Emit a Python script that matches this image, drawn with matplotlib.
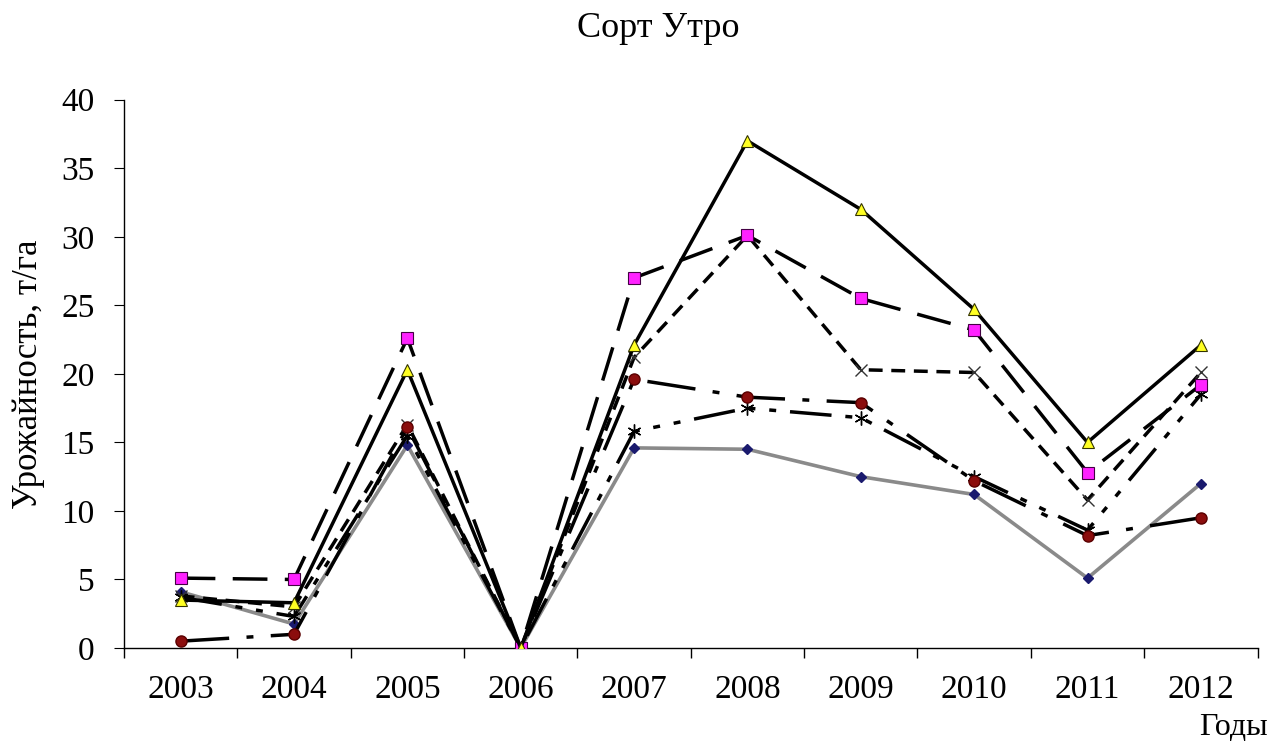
import matplotlib.pyplot as plt

years = ['2003', '2004', '2005', '2006', '2007', '2008', '2009', '2010', '2011', '2012']

# урожайность по вариантам, т/га
tri = [3.5, 3.3, 20.3, 0, 22.1, 37.0, 32.0, 24.7, 15.0, 22.1]
sq = [5.1, 5.0, 22.6, 0, 27.0, 30.1, 25.5, 23.2, 12.8, 19.2]
xs = [3.8, 3.0, 16.3, 0, 21.2, 30.1, 20.3, 20.1, 10.8, 20.1]
circ = [0.5, 1.0, 16.1, 0, 19.6, 18.3, 17.9, 12.2, 8.2, 9.5]
star = [3.7, 2.3, 15.5, 0, 15.8, 17.5, 16.8, 12.5, 8.6, 18.5]
diam = [4.1, 1.75, 14.8, 0, 14.6, 14.5, 12.5, 11.2, 5.1, 12.0]

plt.rcParams['font.family'] = ['Liberation Serif', 'DejaVu Serif']

fig = plt.figure(figsize=(12.78, 7.44), dpi=100)
ax = fig.add_axes([0.097, 0.129, 0.887, 0.737])

x = list(range(len(years)))

ax.plot(x, diam, color='#8a8a8a', lw=2.6, marker='D', ms=5, mfc='#1a1a6e', mec='#1a1a6e', zorder=2)
ax.plot(x, star, color='black', lw=2.5, dashes=(12, 4, 2, 4, 2, 4), marker=(6, 2, 0), ms=10,
        mec='black', mew=1, zorder=3)
ax.plot(x, circ, color='black', lw=2.5, dashes=(14, 5, 2, 5), marker='o', ms=8,
        mfc='#8b0d0d', mec='#5a0000', zorder=4)
ax.plot(x, xs, color='black', lw=2.5, dashes=(4, 2.5), marker='x', ms=9, mec='#333333',
        mew=1, zorder=3)
ax.plot(x, sq, color='black', lw=2.5, dashes=(10, 5), marker='s', ms=8,
        mfc='#ff22ff', mec='#440044', mew=0.8, zorder=5)
ax.plot(x, tri, color='black', lw=2.5, marker='^', ms=8, mfc='#ffff22', mec='#333300',
        mew=0.8, zorder=6)

ax.set_xlim(-0.43, 9.5)
ax.set_ylim(0, 40)
ax.set_yticks(range(0, 41, 5))
ax.set_xticks(x)
ax.set_xticklabels(years)
ax.set_xticks([i - 0.5 for i in range(len(years) + 1)], minor=True)
ax.tick_params(axis='x', which='major', length=0, labelsize=24, pad=19)
ax.tick_params(axis='x', which='minor', length=7, direction='out', width=1)
ax.tick_params(axis='y', length=7, direction='out', labelsize=24, pad=14)
ax.spines['top'].set_visible(False)
ax.spines['right'].set_visible(False)
ax.spines['left'].set_linewidth(1)
ax.spines['bottom'].set_linewidth(1)

ax.set_ylabel('Урожайность, т/га', fontsize=25, labelpad=12)
fig.text(0.515, 0.962, 'Сорт Утро', ha='center', va='center', fontsize=26)
fig.text(0.992, 0.022, 'Годы', ha='right', va='center', fontsize=23)

fig.savefig('out.png', dpi=100)
